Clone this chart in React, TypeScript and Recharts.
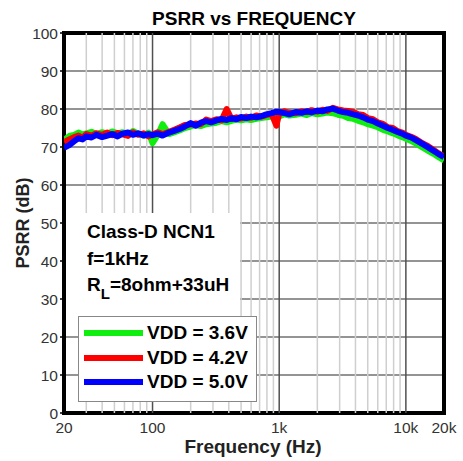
import { LineChart, Line, XAxis, YAxis, CartesianGrid, ReferenceLine, ReferenceArea, Legend } from "recharts";

const freqs = [
  20, 22, 24, 26, 28, 30, 33, 36, 40, 44, 48, 53, 58, 64, 70, 77, 85, 93, 100, 110,
  120, 135, 150, 165, 180, 200, 220, 240, 265, 290, 320, 350, 385, 420, 460, 500, 550, 600, 660, 720,
  790, 870, 950, 1000, 1100, 1200, 1350, 1500, 1650, 1800, 2000, 2200, 2400, 2650, 2900, 3200, 3500, 3850, 4200, 4600,
  5000, 5500, 6000, 6600, 7200, 7900, 8700, 9500, 10000, 11000, 12000, 13500, 15000, 16500, 18000, 20000,
];

const vdd36 = [
  71.8, 72.9, 73.2, 73.8, 73.3, 73.6, 74.0, 73.4, 73.9, 73.5,
  74.1, 73.6, 73.9, 73.2, 74.2, 73.5, 73.0, 73.8, 71.0, 73.2,
  76.0, 73.4, 73.9, 74.4, 75.0, 75.4, 75.8, 75.5, 76.0, 76.2,
  76.4, 76.8, 76.5, 76.9, 77.2, 77.0, 77.3, 77.1, 77.4, 77.6,
  77.8, 78.0, 78.3, 78.0, 78.6, 78.3, 78.5, 78.8, 78.4, 78.9,
  78.6, 78.8, 79.1, 78.9, 78.5, 78.2, 77.6, 77.4, 76.9, 76.5,
  76.0, 75.6, 75.2, 74.5, 74.1, 73.6, 73.0, 72.5, 72.2, 71.6,
  70.9, 69.9, 69.0, 68.2, 67.4, 66.5,
];

const vdd42 = [
  71.3, 72.0, 72.6, 73.0, 72.4, 73.4, 73.0, 73.6, 73.2, 73.8,
  73.1, 73.7, 73.3, 72.9, 73.9, 73.2, 73.6, 72.8, 73.3, 73.9,
  73.4, 74.0, 74.6, 75.2, 75.8, 75.9, 76.2, 76.0, 77.2, 76.8,
  77.3, 77.0, 80.0, 77.4, 77.8, 77.5, 78.0, 77.7, 78.3, 78.0,
  78.4, 78.7, 75.6, 78.8, 79.4, 79.0, 78.9, 79.4, 79.2, 79.7,
  79.3, 79.8, 79.5, 80.3, 79.9, 79.6, 79.5, 79.2, 78.6, 78.4,
  77.6, 77.3, 76.5, 76.1, 75.2, 75.0, 74.1, 73.7, 73.2, 72.7,
  72.1, 71.0, 70.2, 69.3, 68.4, 67.5,
];

const vdd50 = [
  69.8, 70.5, 71.5, 72.3, 72.0, 72.8, 72.5, 73.2, 72.6, 73.0,
  73.4, 72.8, 73.5, 73.8, 73.2, 73.6, 73.0, 73.4, 73.1, 73.5,
  73.0, 73.8, 74.3, 74.8, 75.4, 76.3, 75.6, 76.4, 76.8, 76.5,
  77.0, 77.4, 77.1, 77.6, 77.3, 77.9, 77.6, 78.0, 77.8, 78.1,
  78.6, 78.9, 79.3, 79.2, 78.9, 78.6, 79.2, 79.0, 79.4, 79.1,
  79.6, 79.4, 79.9, 80.1, 79.6, 79.2, 79.0, 78.6, 78.3, 77.8,
  77.2, 76.8, 76.2, 75.6, 75.0, 74.5, 73.9, 73.4, 73.0, 72.5,
  71.8, 70.8, 69.9, 69.0, 68.2, 67.3,
];

const xTicks = [20, 100, 1000, 10000, 20000];
const xTickLabels = ["20", "100", "1k", "10k", "20k"];
const yTicks = [0, 10, 20, 30, 40, 50, 60, 70, 80, 90, 100];
const majorGrid = [100, 1000, 10000];
const minorGrid = [
  30, 40, 50, 60, 70, 80, 90,
  200, 300, 400, 500, 600, 700, 800, 900,
  2000, 3000, 4000, 5000, 6000, 7000, 8000, 9000,
];

const series = [
  { key: "v36", name: "VDD = 3.6V", color: "#10ee10" },
  { key: "v42", name: "VDD = 4.2V", color: "#ff0000" },
  { key: "v50", name: "VDD = 5.0V", color: "#0000ff" },
];

const data = freqs.map((f, i) => ({ f, v36: vdd36[i], v42: vdd42[i], v50: vdd50[i] }));

const font = 'Arial, "Liberation Sans", sans-serif';

function LegendBox() {
  return (
    <div
      style={{
        width: 177,
        height: 80,
        border: "1px solid #888",
        background: "#fff",
        fontFamily: font,
        fontWeight: 700,
        fontSize: 19,
        color: "#000",
        paddingTop: 4,
        boxSizing: "content-box",
      }}
    >
      {series.map((s) => (
        <div key={s.key} style={{ display: "flex", alignItems: "center", height: 24.5 }}>
          <div style={{ marginLeft: 5, width: 59, height: 6, background: s.color }} />
          <span style={{ marginLeft: 4, whiteSpace: "nowrap" }}>{s.name}</span>
        </div>
      ))}
    </div>
  );
}

export default function App() {
  return (
    <div style={{ position: "absolute", left: 0, top: 0, width: 463, height: 461, background: "#fff", fontFamily: font }}>
      <LineChart width={463} height={461} data={data} margin={{ top: 33, right: 19, bottom: 18, left: 9 }}>
        <CartesianGrid vertical={false} stroke="#707070" strokeWidth={1.5} />
        {minorGrid.map((g) => (
          <ReferenceLine key={g} x={g} stroke="#cfcfcf" strokeWidth={1.5} />
        ))}
        {majorGrid.map((g) => (
          <ReferenceLine key={g} x={g} stroke="#505050" strokeWidth={1.5} />
        ))}
        <XAxis
          dataKey="f"
          type="number"
          scale="log"
          domain={[20, 20000]}
          allowDataOverflow
          ticks={xTicks}
          interval={0}
          tickFormatter={(v) => xTickLabels[xTicks.indexOf(v)] ?? String(v)}
          axisLine={false}
          tickLine={false}
          tickSize={0}
          tickMargin={9}
          height={30}
          tick={{ fontSize: 15.5, fill: "#333", fontFamily: font }}
        />
        <YAxis
          type="number"
          domain={[0, 100]}
          ticks={yTicks}
          interval={0}
          axisLine={false}
          tickLine={{ stroke: "#000", strokeWidth: 1.5 }}
          tickSize={4}
          tickMargin={2}
          width={55}
          tick={{ fontSize: 15.5, fill: "#333", fontFamily: font }}
        />
        {series.map((s) => (
          <Line
            key={s.key}
            dataKey={s.key}
            name={s.name}
            stroke={s.color}
            strokeWidth={6}
            dot={false}
            strokeLinejoin="round"
            isAnimationActive={false}
          />
        ))}
        <ReferenceArea x1={20} x2={20000} y1={0} y2={100} fill="none" fillOpacity={0} stroke="#000" strokeWidth={4} />
        <Legend
          layout="vertical"
          align="center"
          verticalAlign="middle"
          content={() => <LegendBox />}
          wrapperStyle={{ left: 78, top: 316, width: "auto" }}
        />
      </LineChart>

      <div style={{ position: "absolute", left: 66, top: 213, width: 174, height: 103, background: "#fff" }} />
      <div style={{ position: "absolute", left: 87, top: 221.9, fontSize: 19, lineHeight: "19px", fontWeight: 700, whiteSpace: "nowrap" }}>Class-D NCN1</div>
      <div style={{ position: "absolute", left: 87, top: 248.9, fontSize: 19, lineHeight: "19px", fontWeight: 700, whiteSpace: "nowrap" }}>f=1kHz</div>
      <div style={{ position: "absolute", left: 87, top: 274.9, fontSize: 19, lineHeight: "19px", fontWeight: 700, whiteSpace: "nowrap" }}>
        R<span style={{ fontSize: 15, position: "relative", top: 8 }}>L</span>=8ohm+33uH
      </div>

      <div style={{ position: "absolute", left: 254, top: 8.9, transform: "translateX(-50%)", fontSize: 19, lineHeight: "19px", fontWeight: 700, whiteSpace: "nowrap" }}>
        PSRR vs FREQUENCY
      </div>
      <div style={{ position: "absolute", left: 253, top: 436.9, transform: "translateX(-50%)", fontSize: 19, lineHeight: "19px", fontWeight: 700, whiteSpace: "nowrap", color: "#222" }}>
        Frequency (Hz)
      </div>
      <div style={{ position: "absolute", left: 23, top: 223, transform: "translate(-50%, -50%) rotate(-90deg)", fontSize: 18, lineHeight: "18px", fontWeight: 700, whiteSpace: "nowrap", color: "#222" }}>
        PSRR (dB)
      </div>
    </div>
  );
}
